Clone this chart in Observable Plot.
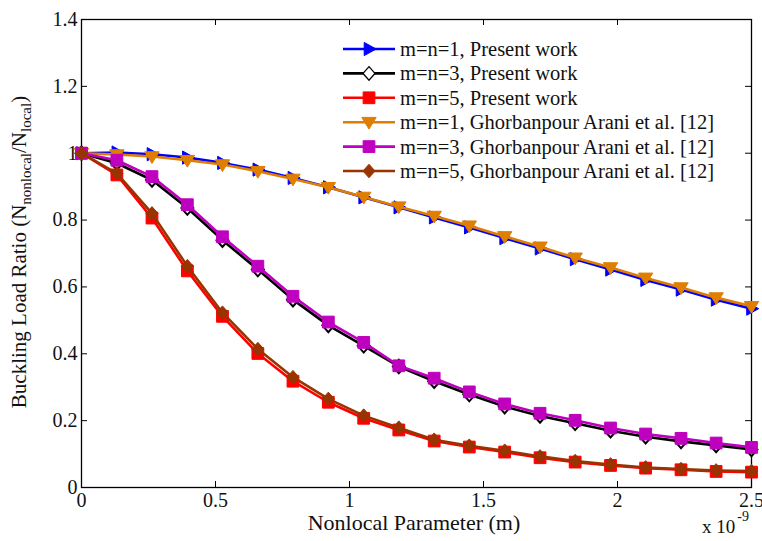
<!DOCTYPE html>
<html><head><meta charset="utf-8">
<script src="https://cdn.jsdelivr.net/npm/d3@7"></script>
<script src="https://cdn.jsdelivr.net/npm/@observablehq/plot@0.6"></script>
<style>
body{margin:0;background:#fff;}
#chart svg{font-family:"Liberation Serif","Times New Roman",serif;}
</style>
</head><body><div id="chart"></div>
<script>
// ---- data (nonlocal parameter in units of 1e-9 m) ----
const xValues = [0, 0.132, 0.263, 0.395, 0.526, 0.658, 0.789, 0.921, 1.053, 1.184, 1.316, 1.447, 1.579, 1.711, 1.842, 1.974, 2.105, 2.237, 2.368, 2.5];
const present1 = [1.0, 1.002, 0.997, 0.987, 0.971, 0.951, 0.926, 0.898, 0.868, 0.838, 0.808, 0.778, 0.746, 0.715, 0.683, 0.652, 0.621, 0.592, 0.562, 0.535];
const present3 = [1.0, 0.970, 0.920, 0.836, 0.740, 0.652, 0.562, 0.485, 0.424, 0.362, 0.318, 0.278, 0.242, 0.214, 0.192, 0.170, 0.152, 0.138, 0.126, 0.114];
const present5 = [1.0, 0.935, 0.806, 0.648, 0.512, 0.401, 0.318, 0.255, 0.207, 0.172, 0.139, 0.121, 0.106, 0.089, 0.076, 0.066, 0.058, 0.053, 0.048, 0.046];
const arani1   = [1.0, 0.996, 0.990, 0.979, 0.966, 0.946, 0.923, 0.898, 0.869, 0.840, 0.812, 0.783, 0.751, 0.720, 0.687, 0.658, 0.627, 0.598, 0.568, 0.542];
const arani3   = [1.0, 0.979, 0.930, 0.846, 0.750, 0.662, 0.572, 0.495, 0.434, 0.364, 0.327, 0.286, 0.250, 0.222, 0.201, 0.178, 0.160, 0.147, 0.133, 0.120];
const arani5   = [1.0, 0.940, 0.820, 0.662, 0.523, 0.414, 0.330, 0.265, 0.215, 0.179, 0.143, 0.125, 0.110, 0.093, 0.079, 0.069, 0.060, 0.055, 0.051, 0.049];
const seriesLabels = [
  "m=n=1, Present work",
  "m=n=3, Present work",
  "m=n=5, Present work",
  "m=n=1, Ghorbanpour Arani et al. [12]",
  "m=n=3, Ghorbanpour Arani et al. [12]",
  "m=n=5, Ghorbanpour Arani et al. [12]"
];
const xTicks = [0, 0.5, 1, 1.5, 2, 2.5];
const xTickLabels = ["0", "0.5", "1", "1.5", "2", "2.5"];
const yTicks = [0, 0.2, 0.4, 0.6, 0.8, 1, 1.2, 1.4];
const yTickLabels = ["0", "0.2", "0.4", "0.6", "0.8", "1", "1.2", "1.4"];
const xLabel = "Nonlocal Parameter (m)";
const yLabelParts = ["Buckling Load Ratio (N", "nonlocal", "/N", "local", ")"];
const xExponent = ["x 10", "-9"];

// ---- custom marker shapes ----
const mk = f => ({draw(ctx, size) { const r = Math.sqrt(size / Math.PI); f(ctx, r); }});
const triRight = mk((c, r) => { c.moveTo(1.2*r, 0); c.lineTo(-0.8*r, -1.1*r); c.lineTo(-0.8*r, 1.1*r); c.closePath(); });
const triDown  = mk((c, r) => { c.moveTo(0, 1.15*r); c.lineTo(-1.2*r, -0.8*r); c.lineTo(1.2*r, -0.8*r); c.closePath(); });
const square   = mk((c, r) => { const h = 0.98*r; c.rect(-h, -h, 2*h, 2*h); });
const diamond  = mk((c, r) => { c.moveTo(0, -1.13*r); c.lineTo(r, 0); c.lineTo(0, 1.13*r); c.lineTo(-r, 0); c.closePath(); });

const series = [
  {label: seriesLabels[0], values: present1, color: "#0000FF", fill: "#0000FF", symbol: triRight, sw: 1},
  {label: seriesLabels[1], values: present3, color: "#000000", fill: "#FFFFFF", symbol: diamond, sw: 2},
  {label: seriesLabels[2], values: present5, color: "#FF0000", fill: "#FF0000", symbol: square, sw: 1},
  {label: seriesLabels[3], values: arani1,   color: "#DF7E00", fill: "#DF7E00", symbol: triDown, sw: 1},
  {label: seriesLabels[4], values: arani3,   color: "#BF00BF", fill: "#BF00BF", symbol: square, sw: 1},
  {label: seriesLabels[5], values: arani5,   color: "#993300", fill: "#993300", symbol: diamond, sw: 1}
];

// ---- layout ----
const W = 762, H = 541, ML = 81, MR = 11, MT = 19, MB = 54;
const FW = W - ML - MR, FH = H - MT - MB, TL = 6, R = 6, LW = 2.6;

const xFmt = new Map(xTicks.map((t, i) => [t, xTickLabels[i]]));
const yFmt = new Map(yTicks.map((t, i) => [t, yTickLabels[i]]));

const marks = [
  Plot.ruleX(xTicks, {x: d => d, insetTop: FH - TL, stroke: "black"}),
  Plot.ruleX(xTicks, {x: d => d, insetBottom: FH - TL, stroke: "black"}),
  Plot.ruleY(yTicks, {y: d => d, insetRight: FW - TL, stroke: "black"}),
  Plot.ruleY(yTicks, {y: d => d, insetLeft: FW - TL, stroke: "black"}),
  Plot.axisX(xTicks, {tickSize: 0, tickPadding: 5, tickFormat: d => xFmt.get(d), label: null, fontSize: 20}),
  Plot.axisY(yTicks, {tickSize: 0, tickPadding: 4, tickFormat: d => yFmt.get(d), label: null, fontSize: 20}),
  Plot.frame({stroke: "black", strokeWidth: 1.3})
];
for (const s of series) {
  const rows = xValues.map((x, i) => ({x, y: s.values[i]}));
  marks.push(Plot.line(rows, {x: "x", y: "y", stroke: s.color, strokeWidth: LW}));
  marks.push(Plot.dot(rows, {x: "x", y: "y", symbol: s.symbol, r: R, fill: s.fill, stroke: s.color, strokeWidth: s.sw}));
}

const chart = Plot.plot({
  width: W, height: H,
  marginLeft: ML, marginRight: MR, marginTop: MT, marginBottom: MB,
  x: {type: "linear", domain: [0, 2.5], label: null},
  y: {type: "linear", domain: [0, 1.4], label: null},
  style: {fontFamily: "'Liberation Serif', 'Times New Roman', serif", fontSize: "20px", color: "#111", background: "white", overflow: "visible"},
  marks
});
document.getElementById("chart").appendChild(chart);

// ---- labels and legend ----
const svg = d3.select(chart);
const font = "'Liberation Serif', 'Times New Roman', serif";

const yl = svg.append("text")
  .attr("transform", "rotate(-90)")
  .attr("x", -252).attr("y", 26)
  .attr("text-anchor", "middle")
  .attr("font-family", font).attr("font-size", 21).attr("fill", "#111");
yl.append("tspan").text(yLabelParts[0]);
yl.append("tspan").attr("font-size", 15).attr("dy", 5).text(yLabelParts[1]);
yl.append("tspan").attr("dy", -5).text(yLabelParts[2]);
yl.append("tspan").attr("font-size", 15).attr("dy", 5).text(yLabelParts[3]);
yl.append("tspan").attr("dy", -5).text(yLabelParts[4]);

svg.append("text").attr("x", ML + FW / 2 - 2).attr("y", 530)
  .attr("text-anchor", "middle").attr("font-family", font).attr("font-size", 22).attr("fill", "#111")
  .text(xLabel);

const ex = svg.append("text").attr("x", 702).attr("y", 533)
  .attr("text-anchor", "start")
  .attr("font-family", font).attr("font-size", 19).attr("fill", "#111");
ex.append("tspan").text(xExponent[0]);
ex.append("tspan").attr("font-size", 14).attr("dy", -12).attr("dx", 2).text(xExponent[1]);

const lg = svg.append("g").attr("text-anchor", "start");
series.forEach((s, i) => {
  const cy = 49 + i * 24.4;
  lg.append("line").attr("x1", 343).attr("x2", 395).attr("y1", cy).attr("y2", cy)
    .attr("stroke", s.color).attr("stroke-width", LW);
  lg.append("path").attr("d", d3.symbol(s.symbol, Math.PI * R * R)())
    .attr("transform", `translate(369,${cy})`).attr("fill", s.fill).attr("stroke", s.color)
    .attr("stroke-width", Math.min(s.sw, 1.3));
  lg.append("text").attr("x", 400).attr("y", cy).attr("dy", "0.34em")
    .attr("text-anchor", "start")
    .attr("font-family", font).attr("font-size", 20.5).attr("fill", "#111").text(s.label);
});
</script>
</body></html>
